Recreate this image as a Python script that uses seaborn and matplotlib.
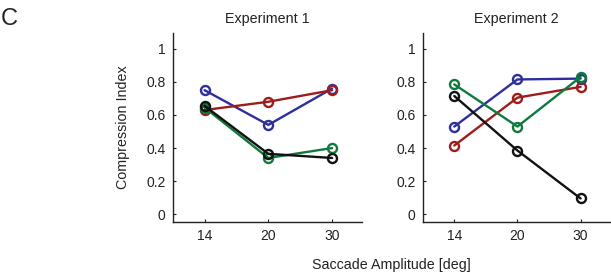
import pandas as pd
import seaborn as sns
import matplotlib.pyplot as plt

amplitudes = ['14', '20', '30']
series_names = ['blue', 'red', 'green', 'black']
colors = {'blue': '#2e2e9e', 'red': '#9e1c1c', 'green': '#0e7a3e', 'black': '#111111'}

exp1_blue = [0.75, 0.54, 0.76]
exp1_red = [0.63, 0.68, 0.75]
exp1_green = [0.645, 0.34, 0.40]
exp1_black = [0.655, 0.365, 0.34]

exp2_blue = [0.53, 0.815, 0.82]
exp2_red = [0.415, 0.705, 0.77]
exp2_green = [0.785, 0.53, 0.83]
exp2_black = [0.715, 0.385, 0.095]


def to_long(vals):
    rows = []
    for name, ys in zip(series_names, vals):
        for i, y in enumerate(ys):
            rows.append({'pos': i, 'amp': amplitudes[i], 'series': name, 'ci': y})
    return pd.DataFrame(rows)


df1 = to_long([exp1_blue, exp1_red, exp1_green, exp1_black])
df2 = to_long([exp2_blue, exp2_red, exp2_green, exp2_black])

sns.set_style('ticks')
plt.rcParams['font.family'] = ['Liberation Sans', 'DejaVu Sans']
plt.rcParams['text.color'] = '#222222'
plt.rcParams['axes.labelcolor'] = '#222222'
plt.rcParams['xtick.color'] = '#222222'
plt.rcParams['ytick.color'] = '#222222'

fig = plt.figure(figsize=(6.11, 2.74), dpi=100)
ax1 = fig.add_axes([0.2826, 0.19, 0.310, 0.689])
ax2 = fig.add_axes([0.6918, 0.19, 0.307, 0.689])

for ax, df, title in [(ax1, df1, 'Experiment 1'), (ax2, df2, 'Experiment 2')]:
    sns.lineplot(data=df, x='pos', y='ci', hue='series', palette=colors,
                 marker='o', markersize=6.5, markerfacecolor='none',
                 markeredgewidth=1.7, linewidth=1.7, legend=False, ax=ax)
    # open circles in the line colour
    for line in ax.get_lines():
        line.set_markeredgecolor(line.get_color())
    ax.set_xlim(-0.5, 2.47)
    ax.set_ylim(-0.047, 1.095)
    ax.set_xticks(range(len(amplitudes)))
    ax.set_xticklabels(amplitudes)
    ax.set_yticks([0, 0.2, 0.4, 0.6, 0.8, 1])
    ax.set_yticklabels(['0', '0.2', '0.4', '0.6', '0.8', '1'])
    ax.tick_params(direction='in', length=2.5, width=0.8, labelsize=10, pad=5)
    ax.set_title(title, fontsize=10.3, pad=7)
    ax.set_xlabel('')
    ax.set_ylabel('')
    sns.despine(ax=ax)
    for s in ['left', 'bottom']:
        ax.spines[s].set_linewidth(1.0)
        ax.spines[s].set_color('#222222')

ax1.set_ylabel('Compression Index', fontsize=10.3, labelpad=12)
fig.text(0.641, 0.033, 'Saccade Amplitude [deg]', ha='center', va='center', fontsize=10.3)
fig.text(0.002, 0.93, 'C', ha='left', va='center', fontsize=17)

fig.savefig('out.png', dpi=100)
